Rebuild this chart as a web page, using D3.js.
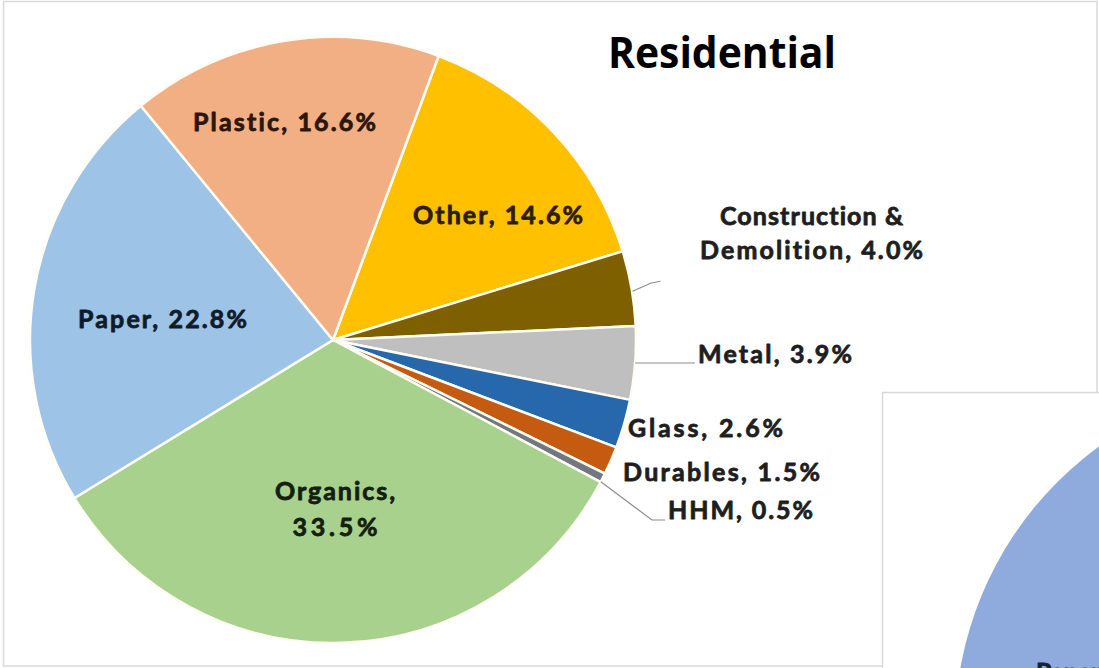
<!DOCTYPE html>
<html>
<head>
<meta charset="utf-8">
<script src="https://cdn.jsdelivr.net/npm/d3@7"></script>
<style>
  html, body { margin: 0; padding: 0; background: #ffffff; }
  svg { display: block; }
  text { font-variant-ligatures: none; font-feature-settings: "liga" 0, "dlig" 0; }
</style>
</head>
<body>
<svg id="chart" width="1099" height="668"></svg>
<script>
// Residential waste composition, share of total (%)
const categories = ["Other", "Construction &\nDemolition", "Metal", "Glass", "Durables", "HHM", "Organics", "Paper", "Plastic"];
const shares     = [14.6, 4.0, 3.9, 2.6, 1.5, 0.5, 33.5, 22.8, 16.6];
const colors     = ["#FFC000", "#7F6000", "#BFBFBF", "#2767AB", "#C55A11", "#737880", "#A9D18E", "#9DC3E6", "#F2AF84"];
const title      = "Residential";

// Neighbouring panel (only its corner shows inside the frame)
const nextCategories = ["Paper"];
const nextColors     = ["#8FAADC"];

const W = 1099, H = 668;
const cx = 333, cy = 340, R = 303;
const startDeg = 20.4;

const svg = d3.select("#chart");

// outer chart frame
svg.append("rect")
  .attr("x", 3.5).attr("y", 1.5)
  .attr("width", 1093.5).attr("height", 664.5)
  .attr("fill", "#ffffff")
  .attr("stroke", "#d9d9d9").attr("stroke-width", 1.5);

const pie = d3.pie()
  .sort(null)
  .value(d => d.value)
  .startAngle(startDeg * Math.PI / 180)
  .endAngle(startDeg * Math.PI / 180 + 2 * Math.PI);

const data = categories.map((c, i) => ({ name: c, value: shares[i], color: colors[i] }));
const arcs = pie(data);
const arc = d3.arc().innerRadius(0).outerRadius(R);

const g = svg.append("g").attr("transform", `translate(${cx},${cy})`);

g.selectAll("path.slice")
  .data(arcs)
  .enter().append("path")
  .attr("class", "slice")
  .attr("d", arc)
  .attr("fill", d => d.data.color)
  .attr("stroke", "#fffdf4")
  .attr("stroke-width", 2.5)
  .attr("stroke-linejoin", "round");

// label placement, relative to the pie centre: anchor point, alignment and target width per line
const labelLayout = {
  "Other":                     { x: 165,   y: -116, anchor: "middle", widths: [170] },
  "Construction &\nDemolition":{ x: 478.5, y: -115, anchor: "middle", widths: [183, 223], gap: 34 },
  "Metal":                     { x: 365,   y: 23,   anchor: "start",  widths: [154] },
  "Glass":                     { x: 295,   y: 97,   anchor: "start",  widths: [155] },
  "Durables":                  { x: 290,   y: 141,  anchor: "start",  widths: [197] },
  "HHM":                       { x: 335,   y: 179,  anchor: "start",  widths: [145] },
  "Organics":                  { x: 2,     y: 160,  anchor: "middle", widths: [120, 85], gap: 36, wrap: true },
  "Paper":                     { x: -170.5,y: -12,  anchor: "middle", widths: [169] },
  "Plastic":                   { x: -48.5, y: -209, anchor: "middle", widths: [183] }
};

const textTint = {
  "Other": "#2e1d02", "Plastic": "#2a160a", "Paper": "#0f1b2b", "Organics": "#13200f"
};

function labelLines(d) {
  const name = d.data.name;
  const pct = d.data.value.toFixed(1) + "%";
  const L = labelLayout[name];
  if (name.includes("\n")) {
    const parts = name.split("\n");
    return [parts[0], parts[1] + ", " + pct];
  }
  if (L.wrap) return [name + ",", pct];
  return [name + ", " + pct];
}

const labels = g.append("g").attr("class", "labels");
arcs.forEach(d => {
  const L = labelLayout[d.data.name];
  const lines = labelLines(d);
  const ink = textTint[d.data.name] || "#1e1e1e";
  const t = labels.append("text")
    .attr("text-anchor", L.anchor)
    .attr("font-family", "Lato, 'DejaVu Sans', sans-serif")
    .attr("font-weight", 700)
    .attr("font-size", 25)
    .attr("fill", ink)
    .attr("stroke", ink)
    .attr("stroke-width", 0.8)
    .attr("stroke-linejoin", "round");
  lines.forEach((line, k) => {
    t.append("tspan")
      .attr("x", L.x)
      .attr("y", L.y + k * (L.gap || 0))
      .attr("textLength", L.widths[k])
      .attr("lengthAdjust", "spacing")
      .text(line);
  });
});

// leader lines for the thin outside-labelled slices
const leader = d3.line();
function edgePoint(d) {
  const a = (d.startAngle + d.endAngle) / 2;
  return [Math.sin(a) * R, -Math.cos(a) * R];
}
function edgeAtY(y) {
  return [Math.sqrt(R * R - y * y), y];
}
const byName = Object.fromEntries(arcs.map(d => [d.data.name, d]));
const leaders = [
  (() => { const p = edgePoint(byName["Construction &\nDemolition"]); return [[p[0] + 1, p[1] + 3], [p[0] + 19, p[1] - 5], [p[0] + 29, p[1] - 7]]; })(),
  (() => { const p = edgeAtY(23); return [p, [labelLayout["Metal"].x - 3, 23]]; })(),
  (() => { const p = edgePoint(byName["HHM"]); return [[p[0] - 2, p[1] + 4], [labelLayout["HHM"].x - 16, 180], [labelLayout["HHM"].x - 3, 180]]; })()
];
g.selectAll("path.leader")
  .data(leaders)
  .enter().append("path")
  .attr("class", "leader")
  .attr("d", leader)
  .attr("fill", "none")
  .attr("stroke", "#8c8c8c")
  .attr("stroke-width", 1.2);

// title
svg.append("text")
  .attr("x", 608).attr("y", 68)
  .attr("font-family", "'Open Sans', 'Noto Sans', sans-serif")
  .attr("font-weight", 700)
  .attr("font-size", 43)
  .attr("fill", "#000000")
  .attr("textLength", 228)
  .attr("lengthAdjust", "spacingAndGlyphs")
  .text(title);

// neighbouring chart panel overlapping the lower-right corner
const panel = svg.append("g");
panel.append("rect")
  .attr("x", 882.5).attr("y", 392.5)
  .attr("width", 300).attr("height", 300)
  .attr("fill", "#ffffff")
  .attr("stroke", "#d9d9d9").attr("stroke-width", 1.5);

const nextPie = d3.pie().sort(null).value(() => 1)(nextCategories);
panel.append("g")
  .attr("transform", "translate(1304,729)")
  .selectAll("path")
  .data(nextPie)
  .enter().append("path")
  .attr("d", d3.arc().innerRadius(0).outerRadius(349))
  .attr("fill", (d, i) => nextColors[i]);

panel.append("text")
  .attr("x", 1036).attr("y", 681)
  .attr("font-family", "Lato, 'DejaVu Sans', sans-serif")
  .attr("font-weight", 700)
  .attr("font-size", 25)
  .attr("fill", "#14213a")
  .attr("stroke", "#14213a")
  .attr("stroke-width", 0.8)
  .text(nextCategories[0]);
</script>
</body>
</html>
